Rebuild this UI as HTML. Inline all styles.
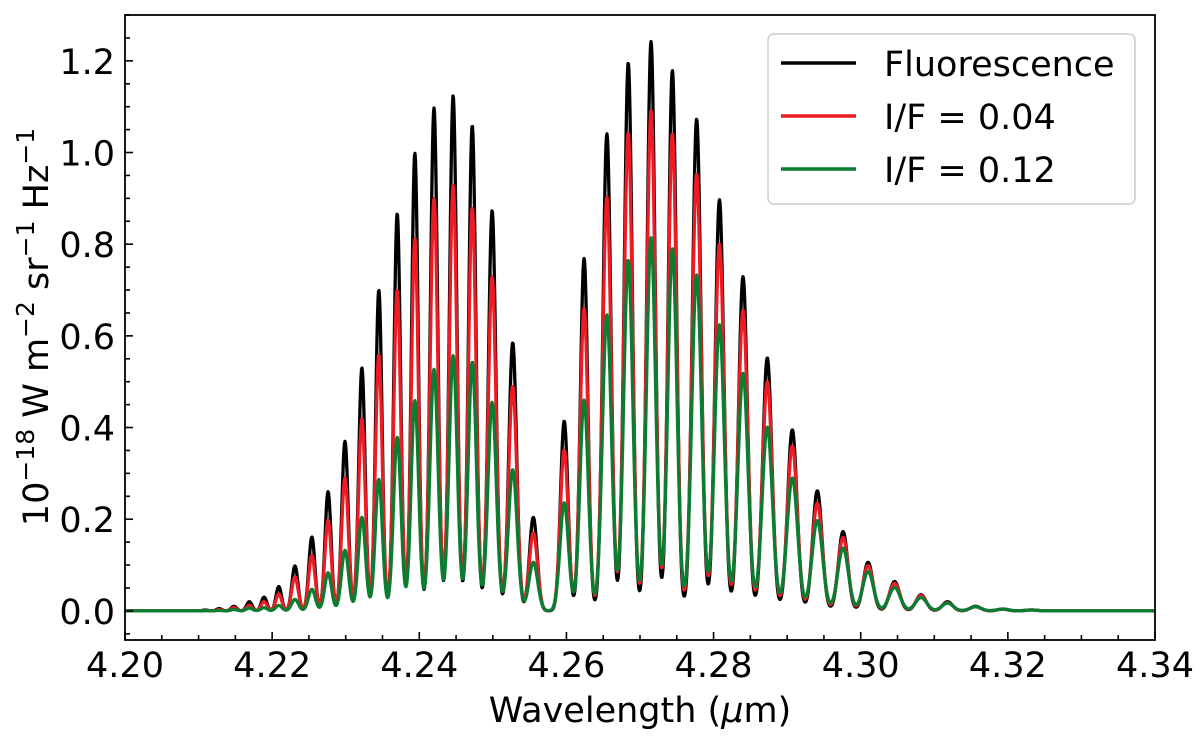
<!DOCTYPE html>
<html><head><meta charset="utf-8">
<style>
body{margin:0;background:#fff;}
svg text{font-family:"DejaVu Sans","Liberation Sans",sans-serif;fill:#000;}
</style></head>
<body>
<svg id="chart" width="1200" height="731" viewBox="0 0 1200 731" xmlns="http://www.w3.org/2000/svg">
<g id="series"></g>
<rect x="125" y="15" width="1030" height="625" fill="none" stroke="#000" stroke-width="1.8"/>
<g id="axes"></g>
<g>
<rect x="768" y="34" width="367" height="170" rx="6" fill="#fff" fill-opacity="0.85" stroke="#ccc" stroke-width="1.5"/>
<line x1="781" y1="63" x2="856" y2="63" stroke="#000" stroke-width="3.5"/>
<text x="884" y="76" font-size="35">Fluorescence</text>
<line x1="781" y1="116" x2="856" y2="116" stroke="#ed1c24" stroke-width="3.5"/>
<text x="884" y="129" font-size="35">I/F = 0.04</text>
<line x1="781" y1="169" x2="856" y2="169" stroke="#0b7d32" stroke-width="3.5"/>
<text x="884" y="182" font-size="35">I/F = 0.12</text>
</g>
<text x="640" y="722" font-size="35" text-anchor="middle">Wavelength (<tspan font-style="italic">μ</tspan>m)</text>
<text transform="translate(48,327) rotate(-90)" font-size="35" text-anchor="middle">10<tspan baseline-shift="super" font-size="25">−18</tspan> W m<tspan baseline-shift="super" font-size="25">−2</tspan> sr<tspan baseline-shift="super" font-size="25">−1</tspan> Hz<tspan baseline-shift="super" font-size="25">−1</tspan></text>
</svg>
<script>
const lineCenters=[4.2109,4.2128,4.2148,4.2169,4.2189,4.2209,4.2231,4.2254,4.2276,4.2299,4.2322,4.2345,4.2370,4.2394,4.2420,4.2446,4.2472,4.2499,4.2527,4.2555,
4.2597,4.2624,4.2655,4.2684,4.2715,4.2744,4.2777,4.2808,4.2840,4.2873,4.2907,4.2941,4.2976,4.3010,4.3046,4.3082,4.3118,4.3156,4.3193,4.3232];
const fluorescence=[0.002,0.005,0.01,0.02,0.03,0.053,0.098,0.161,0.26,0.37,0.53,0.70,0.867,0.999,1.097,1.124,1.059,0.873,0.585,0.204,
0.414,0.769,1.041,1.196,1.242,1.179,1.073,0.897,0.729,0.552,0.395,0.262,0.173,0.106,0.064,0.035,0.02,0.01,0.004,0.002];
const if004=[0.001,0.003,0.007,0.012,0.02,0.037,0.074,0.121,0.198,0.29,0.419,0.559,0.70,0.812,0.899,0.928,0.879,0.729,0.49,0.17,
0.351,0.66,0.903,1.043,1.091,1.041,0.953,0.80,0.655,0.50,0.36,0.235,0.16,0.099,0.06,0.033,0.018,0.009,0.004,0.002];
const if012=[0.0005,0.001,0.003,0.006,0.007,0.012,0.025,0.047,0.083,0.132,0.204,0.287,0.379,0.459,0.527,0.557,0.543,0.455,0.308,0.106,
0.236,0.46,0.646,0.765,0.814,0.79,0.733,0.624,0.518,0.401,0.29,0.197,0.137,0.086,0.051,0.029,0.017,0.009,0.004,0.002];
const xTicks=["4.20","4.22","4.24","4.26","4.28","4.30","4.32","4.34"];
const yTicks=["0.0","0.2","0.4","0.6","0.8","1.0","1.2"];

const X0=125,X1=1155,Y0=640,Y1=15;
const xmin=4.20,xmax=4.34,ymin=-0.0635,ymax=1.3;
function xs(v){return X0+(v-xmin)/(xmax-xmin)*(X1-X0);}
function ys(v){return Y0-(v-ymin)/(ymax-ymin)*(Y0-Y1);}
const NS="http://www.w3.org/2000/svg";
const axes=document.getElementById('axes');
function mk(tag,attrs,parent){const e=document.createElementNS(NS,tag);for(const k in attrs)e.setAttribute(k,attrs[k]);parent.appendChild(e);return e;}

for(let i=0;i<=28;i++){
  const v=xmin+i*0.005;const px=xs(v);const major=i%4===0;
  const t=mk('line',{x1:px,x2:px,y1:Y0,y2:Y0-(major?8:5),stroke:'#000','stroke-width':1.6},axes);
  
  
}
xTicks.forEach(s=>{
  const tx=mk('text',{x:xs(parseFloat(s)),y:677,'font-size':35,'text-anchor':'middle'},axes);
  tx.textContent=s;
  
  
});
for(let i=-1;i<=26;i++){
  const v=i*0.05;if(v<ymin||v>ymax)continue;const py=ys(v);const major=i%4===0;
  const t=mk('line',{x1:X0,x2:X0+(major?8:5),y1:py,y2:py,stroke:'#000','stroke-width':1.6},axes);
  
  
}
yTicks.forEach(s=>{
  const tx=mk('text',{x:115,y:ys(parseFloat(s))+13,'font-size':35,'text-anchor':'end'},axes);
  tx.textContent=s;
  
  
});

function spacingAt(i){
  const n=lineCenters.length;
  const a=i>0?lineCenters[i]-lineCenters[i-1]:lineCenters[1]-lineCenters[0];
  const b=i<n-1?lineCenters[i+1]-lineCenters[i]:a;
  return Math.min(a,b);
}
function profile(vals,div){
  let d='';
  for(let px=X0;px<=X1;px+=0.5){
    const w=xmin+(px-X0)/(X1-X0)*(xmax-xmin);
    let y=0;
    for(let i=0;i<lineCenters.length;i++){
      const s=spacingAt(i)/div;const z=(w-lineCenters[i])/s;
      if(Math.abs(z)<8)y+=vals[i]*Math.exp(-0.5*z*z);
    }
    d+=(d?'L':'M')+px.toFixed(1)+','+ys(y).toFixed(2);
  }
  return d;
}
const g=document.getElementById('series');
const defs=[[fluorescence,'#000','series-fluorescence',5.3],[if004,'#ed1c24','series-if-0.04',5.0],[if012,'#0b7d32','series-if-0.12',4.7]];
defs.forEach(([vals,col,name,div])=>{
  const p=mk('path',{d:profile(vals,div),fill:'none',stroke:col,'stroke-width':3.3,'stroke-linejoin':'round'},g);
  
  
});
</script>
</body></html>
